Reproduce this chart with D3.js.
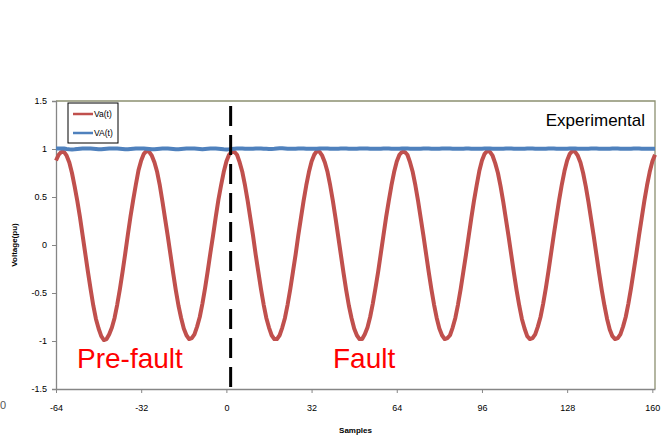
<!DOCTYPE html>
<html>
<head>
<meta charset="utf-8">
<script src="https://cdn.jsdelivr.net/npm/d3@7"></script>
<style>
  body { margin: 0; background: #fff; }
  text { font-family: "Liberation Sans", Arial, sans-serif; }
</style>
</head>
<body>
<svg width="670" height="437"></svg>
<script>
// Sample numbers run from -64 to 161
const firstSample = -64;

// Va(t) instantaneous voltage (pu), one value per sample
const vaValues = [
  // -64 .. -33
  0.88, 0.94, 0.97, 0.97, 0.93, 0.86, 0.75, 0.61, 0.46, 0.29, 0.10, -0.09, -0.28, -0.46, -0.63, -0.77,
  -0.87, -0.95, -0.99, -0.98, -0.93, -0.86, -0.76, -0.62, -0.46, -0.28, -0.09, 0.11, 0.30, 0.47, 0.63, 0.78,
  // -32 .. -1
  0.88, 0.95, 0.98, 0.97, 0.93, 0.86, 0.76, 0.62, 0.45, 0.27, 0.09, -0.10, -0.29, -0.47, -0.63, -0.76,
  -0.87, -0.94, -0.98, -0.97, -0.93, -0.85, -0.75, -0.61, -0.45, -0.27, -0.08, 0.10, 0.29, 0.47, 0.62, 0.76,
  // 0 .. 31
  0.87, 0.94, 0.97, 0.97, 0.94, 0.86, 0.76, 0.62, 0.46, 0.28, 0.10, -0.10, -0.28, -0.46, -0.62, -0.76,
  -0.86, -0.94, -0.98, -0.98, -0.94, -0.86, -0.76, -0.62, -0.46, -0.28, -0.10, 0.10, 0.28, 0.46, 0.62, 0.76,
  // 32 .. 63
  0.87, 0.94, 0.98, 0.97, 0.93, 0.86, 0.76, 0.62, 0.46, 0.28, 0.09, -0.10, -0.29, -0.47, -0.63, -0.76,
  -0.87, -0.94, -0.98, -0.98, -0.93, -0.86, -0.75, -0.61, -0.45, -0.28, -0.09, 0.10, 0.29, 0.46, 0.62, 0.76,
  // 64 .. 95
  0.87, 0.94, 0.97, 0.97, 0.94, 0.86, 0.76, 0.62, 0.46, 0.28, 0.10, -0.09, -0.28, -0.46, -0.62, -0.76,
  -0.87, -0.94, -0.98, -0.97, -0.94, -0.86, -0.76, -0.62, -0.46, -0.28, -0.10, 0.09, 0.28, 0.46, 0.62, 0.77,
  // 96 .. 127
  0.88, 0.95, 0.98, 0.97, 0.93, 0.85, 0.75, 0.61, 0.45, 0.27, 0.09, -0.10, -0.29, -0.47, -0.63, -0.77,
  -0.87, -0.95, -0.98, -0.97, -0.93, -0.85, -0.75, -0.61, -0.45, -0.27, -0.08, 0.11, 0.29, 0.47, 0.63, 0.77,
  // 128 .. 159
  0.88, 0.95, 0.98, 0.97, 0.93, 0.86, 0.75, 0.61, 0.45, 0.27, 0.09, -0.10, -0.29, -0.47, -0.63, -0.77,
  -0.88, -0.95, -0.98, -0.97, -0.93, -0.85, -0.75, -0.61, -0.45, -0.27, -0.09, 0.10, 0.28, 0.46, 0.62, 0.76,
  // 160 .. 161
  0.87, 0.94
];

// VA(t) estimated amplitude (pu), one value per sample
const vAmpValues = [
  1.005, 1.005, 1.005, 1.005, 1.000, 0.997, 0.995, 0.997, 1.000, 1.003, 1.005, 1.005, 1.005, 1.005, 1.003, 1.000,
  0.997, 0.997, 1.000, 1.003, 1.005, 1.005, 1.005, 1.005, 1.003, 1.000, 0.997, 0.997, 1.000, 1.003, 1.005, 1.005,
  1.005, 1.005, 1.003, 1.000, 0.997, 0.997, 1.000, 1.003, 1.005, 1.005, 1.005, 1.003, 1.000, 0.997, 0.997, 1.000,
  1.003, 1.005, 1.005, 1.005, 1.005, 1.003, 1.000, 0.997, 1.000, 1.003, 1.005, 1.005, 1.005, 1.003, 1.000, 0.997,
  0.995, 0.997, 1.000, 1.003, 1.005, 1.005, 1.005, 1.003, 1.002, 1.002, 1.003, 1.005, 1.005, 1.005, 1.003, 1.002,
  1.000, 1.000, 1.002, 1.005, 1.007, 1.007, 1.005, 1.003, 1.002, 1.002, 1.003, 1.005, 1.005, 1.005, 1.003, 1.002,
  1.002, 1.002, 1.003, 1.005, 1.005, 1.005, 1.005, 1.003, 1.002, 1.002, 1.003, 1.005, 1.005, 1.005, 1.003, 1.002,
  1.002, 1.003, 1.005, 1.005, 1.005, 1.005, 1.003, 1.002, 1.002, 1.002, 1.003, 1.005, 1.005, 1.005, 1.003, 1.002,
  1.002, 1.003, 1.005, 1.005, 1.005, 1.003, 1.002, 1.002, 1.002, 1.003, 1.005, 1.005, 1.005, 1.003, 1.002, 1.002,
  1.003, 1.005, 1.005, 1.005, 1.005, 1.003, 1.002, 1.002, 1.002, 1.003, 1.005, 1.005, 1.003, 1.002, 1.002, 1.002,
  1.003, 1.005, 1.005, 1.005, 1.003, 1.002, 1.002, 1.002, 1.003, 1.005, 1.005, 1.005, 1.003, 1.002, 1.002, 1.002,
  1.003, 1.005, 1.005, 1.005, 1.003, 1.002, 1.002, 1.002, 1.003, 1.005, 1.005, 1.005, 1.003, 1.002, 1.002, 1.002,
  1.003, 1.005, 1.005, 1.005, 1.003, 1.002, 1.002, 1.002, 1.003, 1.005, 1.005, 1.005, 1.003, 1.002, 1.002, 1.002,
  1.003, 1.005, 1.005, 1.005, 1.003, 1.002, 1.002, 1.002, 1.003, 1.005, 1.005, 1.005, 1.003, 1.002, 1.002, 1.002,
  1.003, 1.003
];

const xTicks = [-64, -32, 0, 32, 64, 96, 128, 160];
const yTicks = [-1.5, -1, -0.5, 0, 0.5, 1, 1.5];
const faultSample = 1.6;  // dashed marker where the fault starts
const seriesNames = ["Va(t)", "VA(t)"];
const seriesColors = ["#c0504d", "#4f81bd"];

// Plot area
const plot = { left: 56, top: 101, right: 655, bottom: 389 };

const svg = d3.select("svg");

const x = d3.scaleLinear()
    .domain([firstSample, firstSample + vaValues.length - 1])
    .range([plot.left, plot.right]);

const y = d3.scaleLinear()
    .domain([-1.5, 1.5])
    .range([plot.bottom, plot.top]);

// Plot area frame (top/right in olive like the original)
svg.append("path")
    .attr("d", `M${plot.left},${plot.top}H${plot.right}V${plot.bottom}`)
    .attr("fill", "none")
    .attr("stroke", "#8c9070")
    .attr("stroke-width", 1.3);

// Y axis (plain hyphen minus, like Excel)
const yAxis = svg.append("g")
    .attr("transform", `translate(${plot.left},0)`)
    .call(d3.axisLeft(y).tickValues(yTicks).tickSize(4).tickPadding(5)
        .tickFormat(d => String(d)));
yAxis.select(".domain").attr("stroke", "#868686").attr("stroke-width", 1.3);
yAxis.selectAll(".tick line").attr("stroke", "#868686");
yAxis.selectAll(".tick text").attr("fill", "#000").style("font-size", "9px");

// X axis
const xAxis = svg.append("g")
    .attr("transform", `translate(0,${plot.bottom})`)
    .call(d3.axisBottom(x).tickValues(xTicks).tickSize(4).tickPadding(12)
        .tickSizeOuter(0).tickFormat(d => String(d)));
xAxis.select(".domain").attr("stroke", "#868686").attr("stroke-width", 1.3);
xAxis.selectAll(".tick line").attr("stroke", "#868686");
xAxis.selectAll(".tick text").attr("fill", "#000").style("font-size", "9px");

// Axis titles
svg.append("text")
    .attr("transform", "rotate(-90)")
    .attr("x", -245)
    .attr("y", 17)
    .attr("text-anchor", "middle")
    .style("font-size", "8px")
    .style("font-weight", "bold")
    .text("Voltage(pu)");

svg.append("text")
    .attr("x", (plot.left + plot.right) / 2)
    .attr("y", 433)
    .attr("text-anchor", "middle")
    .style("font-size", "8px")
    .style("font-weight", "bold")
    .text("Samples");

// stray label at the far left edge
svg.append("text")
    .attr("x", 0)
    .attr("y", 409)
    .style("font-size", "11px")
    .attr("fill", "#555")
    .text("0");

// Lines
const line = d3.line()
    .x((d, i) => x(firstSample + i))
    .y(d => y(d));

svg.append("path")
    .datum(vaValues)
    .attr("fill", "none")
    .attr("stroke", seriesColors[0])
    .attr("stroke-width", 4)
    .attr("stroke-linejoin", "round")
    .attr("d", line);

svg.append("path")
    .datum(vAmpValues)
    .attr("fill", "none")
    .attr("stroke", seriesColors[1])
    .attr("stroke-width", 4)
    .attr("stroke-linejoin", "round")
    .attr("d", line);

// Fault marker
svg.append("line")
    .attr("x1", x(faultSample))
    .attr("x2", x(faultSample))
    .attr("y1", 106)
    .attr("y2", 391)
    .attr("stroke", "#000")
    .attr("stroke-width", 3)
    .attr("stroke-dasharray", "20,9");

// Annotations
svg.append("text")
    .attr("x", 645)
    .attr("y", 126)
    .attr("text-anchor", "end")
    .style("font-size", "17px")
    .text("Experimental");

svg.append("text")
    .attr("x", 77)
    .attr("y", 368)
    .attr("fill", "#ff0000")
    .style("font-size", "28px")
    .text("Pre-fault");

svg.append("text")
    .attr("x", 333)
    .attr("y", 368)
    .attr("fill", "#ff0000")
    .style("font-size", "28px")
    .text("Fault");

// Legend
const legend = svg.append("g").attr("transform", "translate(68,103)");
legend.append("rect")
    .attr("width", 50)
    .attr("height", 40)
    .attr("fill", "#fff")
    .attr("stroke", "#000")
    .attr("stroke-width", 1);

seriesNames.forEach((name, i) => {
    const row = legend.append("g").attr("transform", `translate(0,${11 + i * 19})`);
    row.append("line")
        .attr("x1", 5).attr("x2", 25)
        .attr("stroke", seriesColors[i])
        .attr("stroke-width", 2.5);
    row.append("text")
        .attr("x", 26)
        .attr("dy", "0.35em")
        .style("font-size", "8.5px")
        .text(name);
});
</script>
</body>
</html>
